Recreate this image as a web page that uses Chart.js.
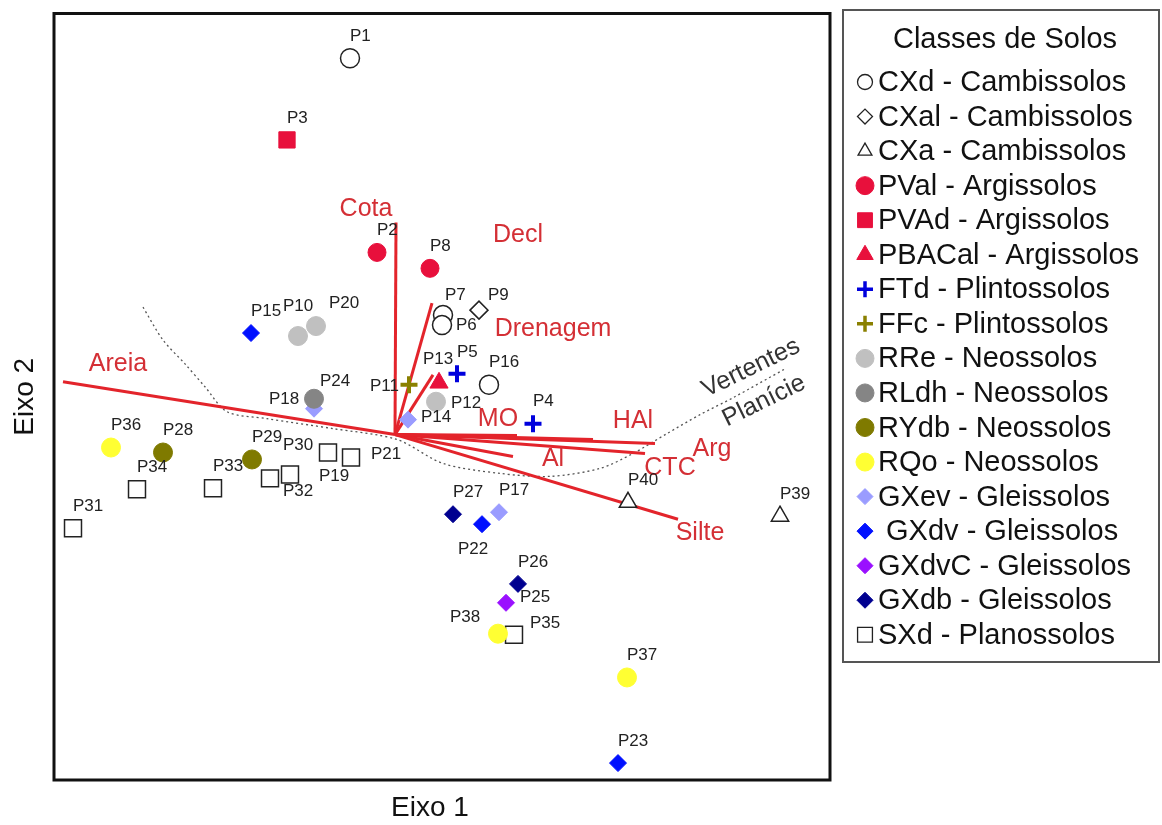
<!DOCTYPE html>
<html>
<head>
<meta charset="utf-8">
<script src="https://cdn.jsdelivr.net/npm/chart.js@4.4.1/dist/chart.umd.min.js"></script>
<style>
  html, body { margin: 0; padding: 0; background: #fff; overflow: hidden; }
</style>
</head>
<body>
<canvas id="biplot" width="1162" height="825"></canvas>
<script>
// Soil classes (legend order)
const classCodes = ['CXd', 'CXal', 'CXa', 'PVal', 'PVAd', 'PBACal', 'FTd', 'FFc', 'RRe', 'RLdh', 'RYdb', 'RQo', 'GXev', ' GXdv', 'GXdvC', 'GXdb', 'SXd'];
const classGroups = ['Cambissolos', 'Cambissolos', 'Cambissolos', 'Argissolos', 'Argissolos', 'Argissolos', 'Plintossolos', 'Plintossolos',
                     'Neossolos', 'Neossolos', 'Neossolos', 'Neossolos', 'Gleissolos', 'Gleissolos', 'Gleissolos', 'Gleissolos', 'Planossolos'];

// Sample scores on the two ordination axes
const pointIds   = ['P1', 'P7', 'P6', 'P16', 'P9', 'P40', 'P39', 'P2', 'P8', 'P3', 'P13', 'P5', 'P4', 'P11',
                    'P10', 'P20', 'P12', 'P24', 'P28', 'P29', 'P36', 'P38', 'P37', 'P14', 'P18', 'P17',
                    'P15', 'P22', 'P23', 'P25', 'P27', 'P26', 'P30', 'P19', 'P32', '', 'P33', 'P34', 'P31', 'P35', 'P21'];
const pointX     = [-0.225, 0.24, 0.235, 0.47, 0.42, 1.165, 1.925, -0.09, 0.175, -0.54, 0.22, 0.31, 0.69, 0.07,
                    -0.485, -0.395, 0.205, -0.405, -1.16, -0.715, -1.42, 0.515, 1.16, 0.065, -0.405, 0.52,
                    -0.72, 0.435, 1.115, 0.555, 0.29, 0.615, -0.335, -0.22, -0.525, -0.625, -0.91, -1.29, -1.61, 0.595, 0];
const pointY     = [1.89, 0.60, 0.55, 0.25, 0.625, -0.34, -0.41, 0.915, 0.835, 1.48, 0.26, 0.305, 0.055, 0.25,
                    0.495, 0.545, 0.165, 0.18, -0.09, -0.125, -0.065, -1.00, -1.22, 0.075, 0.13, -0.39,
                    0.51, -0.45, -1.65, -0.845, -0.40, -0.75, -0.09, -0.115, -0.2, -0.22, -0.27, -0.275, -0.47, -1.005, 0];
const pointClass = [0, 0, 0, 0, 1, 2, 2, 3, 3, 4, 5, 6, 6, 7,
                    8, 8, 8, 9, 10, 10, 11, 11, 11, 12, 12, 12,
                    13, 13, 13, 14, 15, 15, 16, 16, 16, 16, 16, 16, 16, 16, -1];

// Environmental variables (arrow tips, origin at 0,0)
const vectorNames = ['Areia', 'Cota', 'Decl', 'Drenagem', 'MO', 'HAl', 'Arg', 'CTC', 'Al', 'Silte'];
const vectorX     = [-1.66, 0.005, 0.185, 0.19, 0.61, 0.99, 1.30, 1.25, 0.59, 1.415];
const vectorY     = [0.265, 1.065, 0.66, 0.30, -0.005, -0.025, -0.045, -0.095, -0.11, -0.425];

// Boundary between Vertentes and Planicie
const boundaryX = [-1.26, -1.16, -1.05, -0.95, -0.84, -0.64, -0.31, 0.01, 0.24, 0.525, 0.775, 1.025, 1.19, 1.36, 1.525, 1.69, 1.95];
const boundaryY = [0.64, 0.475, 0.355, 0.24, 0.115, 0.08, 0.03, -0.025, -0.145, -0.195, -0.21, -0.17, -0.095, 0.005, 0.1, 0.185, 0.33];

// ---- styling ----
const FONT = '"Liberation Sans", Arial, Helvetica, sans-serif';
const RED = '#e8103c';
const VEC_RED = '#e3242b';
const VEC_TEXT = '#d42f35';
const classStyle = [
  { shape: 'circle',   fill: '#fff',    line: '#222', r: 9.5 },
  { shape: 'rectRot',  fill: '#fff',    line: '#222', r: 9 },
  { shape: 'triangle', fill: '#fff',    line: '#222', r: 10 },
  { shape: 'circle',   fill: RED,       line: RED,    r: 9 },
  { shape: 'rect',     fill: RED,       line: RED,    r: 11.5 },
  { shape: 'triangle', fill: RED,       line: RED,    r: 10.5 },
  { shape: 'cross',    fill: '#0000dd', line: '#0000dd', r: 8.5, w: 4 },
  { shape: 'cross',    fill: '#8a8000', line: '#8a8000', r: 8.5, w: 4 },
  { shape: 'circle',   fill: '#c0c0c0', line: '#c0c0c0', r: 9.5 },
  { shape: 'circle',   fill: '#858585', line: '#858585', r: 9.5 },
  { shape: 'circle',   fill: '#7f7a00', line: '#7f7a00', r: 9.5 },
  { shape: 'circle',   fill: '#ffff33', line: '#ffff33', r: 9.5 },
  { shape: 'rectRot',  fill: '#9a9cff', line: '#9a9cff', r: 8.5 },
  { shape: 'rectRot',  fill: '#0010ff', line: '#0010ff', r: 8.5 },
  { shape: 'rectRot',  fill: '#9a10ff', line: '#9a10ff', r: 8.5 },
  { shape: 'rectRot',  fill: '#000090', line: '#000090', r: 8.5 },
  { shape: 'rect',     fill: '#fff',    line: '#222', r: 12 }
];
// legend symbol radius
const legendR = [7.5, 7.5, 8, 9, 10.5, 9.5, 8, 8, 9, 9, 9, 9, 8, 8, 8, 8, 10.5];
// label offset of the left edge of each point label, px
const labelOffset = {
  P6: [14, 0], P7: [2, -20], P9: [9, -15], P10: [-15, -30], P20: [13, -23], P13: [-16, -24],
  P11: [-39, 2], P12: [15, 2], P14: [13, -2], P24: [6, -17], P18: [-45, -9], P30: [-45, -7],
  P19: [-32, 19], P32: [-7, 17], P22: [-24, 25], P25: [14, -5], P38: [-48, -16], P35: [16, -11],
  P21: [-24, 20]
};
// vector label centre relative to arrow tip, px
const vecLabelOffset = [[55, -18], [-30, -13], [86, -68], [120, -46], [-19, -16], [40, -18], [57, 6], [25, 15], [40, 3], [22, 14]];

const xMin = -1.705, xMax = 2.175, yMin = -1.735, yMax = 2.115;

// ---- datasets ----
const datasets = [];
classCodes.forEach((code, c) => {
  const st = classStyle[c];
  const pts = [];
  pointIds.forEach((id, i) => { if (pointClass[i] === c) pts.push({ x: pointX[i], y: pointY[i] }); });
  datasets.push({
    label: code,
    data: pts,
    pointStyle: st.shape,
    pointRadius: st.r,
    pointBackgroundColor: st.fill,
    pointBorderColor: st.line,
    pointBorderWidth: st.w || (st.fill === '#fff' ? 1.5 : 1),
    showLine: false,
    order: 1
  });
});
vectorNames.forEach((name, i) => {
  datasets.push({
    label: name,
    data: [{ x: 0, y: 0 }, { x: vectorX[i], y: vectorY[i] }],
    showLine: true,
    borderColor: VEC_RED,
    borderWidth: 3,
    pointRadius: 0,
    order: 5
  });
});
datasets.push({
  label: 'limite',
  data: boundaryX.map((v, i) => ({ x: v, y: boundaryY[i] })),
  showLine: true,
  borderColor: '#555',
  borderWidth: 1.3,
  borderDash: [2, 3],
  pointRadius: 0,
  tension: 0.3,
  order: 6
});

const overlay = {
  id: 'overlay',
  afterDatasetsDraw(chart) {
    const { ctx, chartArea: a, scales: { x, y } } = chart;
    ctx.save();

    // vector labels
    ctx.font = '25px ' + FONT;
    ctx.fillStyle = VEC_TEXT;
    ctx.textAlign = 'center';
    ctx.textBaseline = 'middle';
    vectorNames.forEach((n, i) => {
      const o = vecLabelOffset[i];
      ctx.fillText(n, x.getPixelForValue(vectorX[i]) + o[0], y.getPixelForValue(vectorY[i]) + o[1]);
    });

    // point labels
    ctx.font = '17px ' + FONT;
    ctx.fillStyle = '#222';
    ctx.textAlign = 'left';
    pointIds.forEach((id, i) => {
      if (!id) return;
      const o = labelOffset[id] || [0, -22];
      ctx.fillText(id, x.getPixelForValue(pointX[i]) + o[0], y.getPixelForValue(pointY[i]) + o[1]);
    });

    // region labels along the boundary
    ctx.font = '25px ' + FONT;
    ctx.fillStyle = '#333';
    ctx.textAlign = 'center';
    [['Vertentes', 751, 368], ['Planície', 764, 401]].forEach(([t, px, py]) => {
      ctx.save();
      ctx.translate(px, py);
      ctx.rotate(-26 * Math.PI / 180);
      ctx.fillText(t, 0, 0);
      ctx.restore();
    });

    // frame
    ctx.lineWidth = 3;
    ctx.strokeStyle = '#111';
    ctx.strokeRect(a.left, a.top, a.right - a.left, a.bottom - a.top);

    // axis titles
    ctx.font = '28px ' + FONT;
    ctx.fillStyle = '#111';
    ctx.fillText('Eixo 1', (a.left + a.right) / 2 - 12, a.bottom + 28);
    ctx.save();
    ctx.translate(25, (a.top + a.bottom) / 2);
    ctx.rotate(-Math.PI / 2);
    ctx.fillText('Eixo 2', 0, 0);
    ctx.restore();

    // legend box
    const lx = 843, ly = 10, lw = 316, lh = 652;
    ctx.lineWidth = 2;
    ctx.strokeStyle = '#555';
    ctx.strokeRect(lx, ly, lw, lh);
    ctx.font = '29px ' + FONT;
    ctx.fillStyle = '#111';
    ctx.fillText('Classes de Solos', 1005, 40);
    ctx.textAlign = 'left';
    classCodes.forEach((code, c) => {
      const st = classStyle[c];
      const ry = 82 + c * 34.55;
      const bw = st.w ? 3.5 : (st.fill === '#fff' ? 1.3 : 1);
      ctx.fillStyle = st.fill;
      ctx.strokeStyle = st.line;
      ctx.lineWidth = bw;
      Chart.helpers.drawPoint(ctx, { pointStyle: st.shape, radius: legendR[c], rotation: 0, borderWidth: bw }, 865, ry);
      ctx.fillStyle = '#111';
      ctx.fillText(code + ' - ' + classGroups[c], 878, ry + 1);
    });
    ctx.restore();
  }
};

new Chart(document.getElementById('biplot'), {
  type: 'scatter',
  data: { datasets },
  options: {
    responsive: false,
    animation: false,
    events: [],
    layout: { padding: { left: 54, right: 1162 - 830, top: 10, bottom: 45 } },
    plugins: { legend: { display: false }, tooltip: { enabled: false } },
    scales: {
      x: { type: 'linear', min: xMin, max: xMax, display: false },
      y: { type: 'linear', min: yMin, max: yMax, display: false }
    }
  },
  plugins: [overlay]
});
</script>
</body>
</html>
